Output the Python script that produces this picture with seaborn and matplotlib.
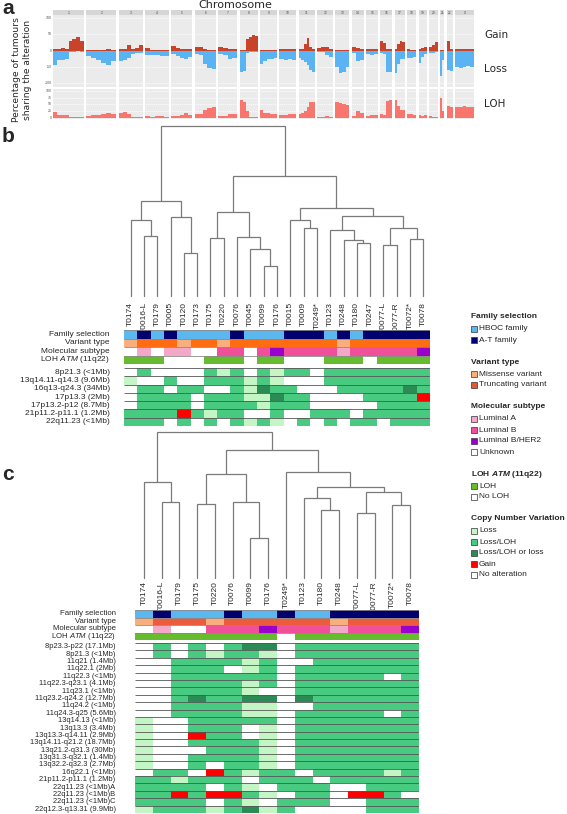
import matplotlib
matplotlib.use("Agg")
import matplotlib.pyplot as plt
from matplotlib.colors import ListedColormap
from matplotlib.patches import Rectangle
import numpy as np
import pandas as pd
import seaborn as sns

# ---------------------------------------------------------------- panel a data
chroms = [str(i) for i in range(1, 23)] + ["X"]
chrom_width = [31, 30, 24, 24, 21, 21, 19, 18, 17, 17, 16, 16, 14, 12, 12, 12, 10, 9, 8, 9, 4, 6, 19]
gain_pct = [
    [6, 5, 8, 5, 28, 35, 41, 30], [2, 3, 2, 3, 4, 2], [4, 5, 18, 6, 8, 16], [8, 3, 2, 3, 2],
    [13, 8, 5, 5, 6], [12, 10, 4, 3, 3], [10, 9, 6, 5], [2, 3, 35, 42, 48, 45],
    [2, 3, 3, 2, 3], [5, 4, 6, 5], [4, 6, 20, 38, 10, 5], [8, 10, 12, 6],
    [2, 3, 2, 2], [12, 8, 6], [5, 6, 5], [28, 22, 5, 4], [5, 20, 28, 25], [4, 3, 3],
    [5, 8, 10], [10, 18, 25], [2, 3], [30, 5], [5, 4, 6, 5, 4],
]
loss_pct = [
    [44, 30, 28, 25, 4, 4, 3, 4], [17, 22, 30, 38, 44, 32], [32, 30, 22, 10, 8, 9], [15, 14, 15, 16, 18],
    [12, 18, 24, 27, 20], [12, 14, 40, 55, 58], [12, 15, 25, 24], [66, 62, 8, 4, 4, 4],
    [40, 32, 25, 25, 24], [26, 28, 27, 30], [22, 28, 36, 45, 60, 67], [4, 6, 14, 20],
    [50, 68, 65, 52], [8, 32, 30], [12, 13, 12], [8, 10, 65, 67], [70, 40, 27, 25], [22, 24, 20],
    [37, 20, 12], [7, 8, 6], [78, 30], [60, 63], [50, 55, 52, 48, 50],
]
loh_pct = [
    [22, 12, 10, 12, 3, 5, 4, 5], [7, 9, 12, 15, 17, 16], [20, 23, 15, 5, 5, 4], [6, 5, 6, 7, 5],
    [6, 7, 10, 17, 10], [13, 15, 30, 35, 39], [7, 8, 15, 14], [66, 60, 25, 3, 3, 3],
    [28, 18, 17, 16, 15], [10, 12, 13, 15], [15, 17, 25, 40, 60, 58], [5, 4, 6, 5],
    [60, 55, 50, 48], [8, 24, 20], [8, 11, 9], [15, 12, 62, 65], [66, 45, 30, 28], [15, 14, 12],
    [10, 8, 9], [6, 5, 5], [75, 25], [45, 42], [42, 40, 44, 40, 42],
]
gl_ticks = [100, 50, 0, -50, -100]
loh_ticks = [100, 75, 50, 25, 0]

# ------------------------------------------------------------- sample annotations
samples = ["T0174", "T0016-L", "T0179", "T0005", "T0120", "T0173", "T0175", "T0220", "T0076",
           "T0045", "T0099", "T0176", "T0015", "T0009", "T0249*", "T0123", "T0248", "T0180",
           "T0247", "T0077-L", "T0077-R", "T0072*", "T0078"]
family = list("HAHAHHHHAHHHAAAHAHAAAAA")          # H = HBOC, A = A-T
variant = list("MTTTMTTMTTTTTTTTMTTTTTT")         # M = missense, T = truncating
subtype = list("UAUAAUUBBUBHBBBBABBBBBH")         # A, B, H = LumB/HER2, U = unknown
loh_atm = [1, 1, 1, 0, 0, 0, 1, 1, 1, 0, 1, 1, 0, 0, 0, 1, 1, 1, 0, 1, 1, 1, 1]
annot_rows = ["Family selection", "Variant type", "Molecular subtype", "LOH $\\it{ATM}$ (11q22)"]

# CNV codes: 0 none, 1 loss, 2 loss/LOH, 3 loss/LOH or loss, 4 gain
cnv_b_regions = ["8p21.3 (<1Mb)", "13q14.11-q14.3 (9.6Mb)", "16q13-q24.3 (34Mb)", "17p13.3 (2Mb)",
                 "17p13.2-p12 (8.7Mb)", "21p11.2-p11.1 (1.2Mb)", "22q11.23 (<1Mb)"]
cnv_b = [
    [0, 2, 0, 0, 0, 0, 2, 1, 2, 0, 2, 1, 2, 2, 0, 2, 2, 2, 2, 2, 2, 2, 2],
    [1, 0, 0, 2, 0, 0, 2, 2, 2, 1, 2, 1, 0, 0, 0, 2, 2, 2, 2, 2, 2, 2, 2],
    [0, 2, 2, 0, 2, 2, 0, 0, 2, 1, 3, 2, 2, 0, 0, 0, 2, 2, 2, 2, 2, 3, 2],
    [0, 2, 2, 2, 2, 0, 2, 2, 2, 1, 1, 3, 2, 2, 0, 0, 0, 0, 2, 2, 2, 2, 4],
    [0, 2, 2, 2, 2, 0, 2, 2, 2, 2, 1, 2, 2, 2, 0, 0, 0, 0, 0, 2, 2, 2, 2],
    [2, 2, 2, 2, 4, 2, 1, 2, 2, 0, 0, 2, 0, 0, 2, 2, 2, 0, 2, 2, 2, 2, 2],
    [2, 2, 2, 0, 2, 0, 2, 0, 2, 1, 2, 1, 0, 2, 0, 2, 0, 2, 2, 0, 2, 2, 2],
]
# linkage rows: (left node, right node, height); leaves are 0..n-1
link_b = [(1, 2, 60), (0, 23, 76), (4, 5, 43), (3, 25, 79), (24, 26, 95), (6, 7, 58),
          (10, 11, 30), (9, 29, 47), (8, 30, 59), (28, 31, 84), (13, 14, 68), (12, 33, 76),
          (17, 18, 53), (16, 35, 56), (15, 36, 66), (19, 20, 51), (21, 22, 57), (38, 39, 68),
          (37, 40, 80), (34, 41, 88), (32, 42, 120), (27, 43, 170)]

samples_c = ["T0174", "T0016-L", "T0179", "T0175", "T0220", "T0076", "T0099", "T0176", "T0249*",
             "T0123", "T0180", "T0248", "T0077-L", "T0077-R", "T0072*", "T0078"]
cnv_c_regions = ["8p23.3-p22 (17.1Mb)", "8p21.3 (<1Mb)", "11q21 (1.4Mb)", "11q22.1 (2Mb)",
                 "11q22.3 (<1Mb)", "11q22.3-q23.1 (4.1Mb)", "11q23.1 (<1Mb)", "11q23.2-q24.2 (12.7Mb)",
                 "11q24.2 (<1Mb)", "11q24.3-q25 (5.6Mb)", "13q14.13 (<1Mb)", "13q13.3 (3.4Mb)",
                 "13q13.3-q14.11 (2.9Mb)", "13q14.11-q21.2 (18.7Mb)", "13q21.2-q31.3 (30Mb)",
                 "13q31.3-q32.1 (1.4Mb)", "13q32.2-q32.3 (2.7Mb)", "16q22.1 (<1Mb)",
                 "21p11.2-p11.1 (1.2Mb)", "22q11.23 (<1Mb)A", "22q11.23 (<1Mb)B",
                 "22q11.23 (<1Mb)C", "22q12.3-q13.31 (9.9Mb)"]
cnv_c = [
    [0, 2, 0, 2, 0, 2, 3, 3, 0, 2, 2, 2, 2, 2, 2, 2],
    [0, 2, 0, 2, 1, 2, 2, 1, 0, 2, 2, 2, 2, 2, 2, 2],
    [0, 0, 2, 2, 2, 2, 1, 2, 0, 0, 2, 2, 2, 2, 2, 2],
    [0, 0, 2, 2, 2, 0, 1, 2, 0, 2, 2, 2, 2, 2, 2, 2],
    [0, 0, 2, 2, 2, 2, 2, 2, 0, 2, 2, 2, 2, 2, 0, 2],
    [0, 0, 2, 2, 2, 2, 1, 2, 0, 2, 2, 2, 2, 2, 2, 2],
    [0, 0, 2, 2, 2, 2, 1, 0, 0, 2, 2, 2, 2, 2, 2, 2],
    [0, 0, 2, 3, 2, 2, 3, 3, 0, 3, 2, 2, 2, 2, 2, 2],
    [0, 0, 2, 2, 2, 2, 1, 1, 0, 0, 2, 2, 2, 2, 2, 2],
    [0, 0, 2, 2, 2, 2, 1, 1, 0, 2, 2, 2, 2, 2, 0, 2],
    [1, 0, 0, 2, 2, 2, 2, 2, 0, 2, 2, 2, 2, 2, 2, 2],
    [1, 0, 0, 2, 2, 2, 0, 1, 0, 2, 2, 2, 2, 2, 2, 2],
    [1, 0, 0, 4, 2, 2, 0, 1, 0, 2, 2, 2, 2, 2, 2, 2],
    [1, 0, 0, 2, 2, 2, 2, 1, 0, 2, 2, 2, 2, 2, 2, 2],
    [1, 0, 0, 0, 2, 2, 2, 1, 0, 2, 2, 2, 2, 2, 2, 2],
    [1, 0, 0, 2, 2, 2, 2, 1, 0, 2, 2, 2, 2, 2, 2, 2],
    [1, 0, 0, 2, 0, 2, 2, 1, 0, 2, 2, 2, 2, 2, 2, 2],
    [0, 2, 2, 0, 4, 2, 1, 2, 2, 0, 2, 2, 2, 2, 1, 2],
    [2, 2, 1, 2, 2, 2, 0, 2, 2, 2, 0, 2, 2, 2, 2, 2],
    [2, 2, 2, 2, 0, 2, 1, 0, 2, 2, 2, 0, 0, 2, 2, 2],
    [2, 2, 4, 2, 4, 4, 2, 1, 0, 2, 2, 0, 4, 4, 2, 0],
    [2, 2, 2, 2, 0, 2, 1, 0, 2, 2, 2, 0, 0, 2, 2, 2],
    [1, 2, 2, 2, 1, 2, 3, 1, 2, 0, 0, 0, 0, 2, 2, 2],
]
link_c = [(1, 2, 76), (0, 16, 96), (3, 4, 74), (6, 7, 40), (5, 19, 76), (18, 20, 104),
          (10, 11, 68), (9, 22, 80), (12, 13, 65), (14, 15, 73), (24, 25, 86), (23, 26, 91),
          (8, 27, 106), (21, 28, 128), (17, 29, 146)]

legend_groups = [
    ("Family selection", ["HBOC family", "A-T family"]),
    ("Variant type", ["Missense variant", "Truncating variant"]),
    ("Molecular subtype", ["Luminal A", "Luminal B", "Luminal B/HER2", "Unknown"]),
    ("LOH $\\bf{ATM}$ (11q22)", ["LOH", "No LOH"]),
    ("Copy Number Variation", ["Loss", "Loss/LOH", "Loss/LOH or loss", "Gain", "No alteration"]),
]

# ---------------------------------------------------------------- styling
GAIN_C, LOSS_C, LOH_C = "#C8432A", "#5AB4F4", "#F8766D"
HBOC, AT = "#5BB8EE", "#00006E"
MISS, TRUNC_B, TRUNC_C = "#F9AE7E", "#FF6C12", "#EC5C3C"
LUMA, LUMB, HER2, LOHG = "#F3A8C8", "#F0509A", "#9A00CC", "#66BB2E"
CNV_COLORS = ["white", "#C4F5C4", "#48CB80", "#2C8A55", "#FF0000"]
LEG_COLORS = [[HBOC, AT], [MISS, "#E0593A"], [LUMA, LUMB, HER2, "white"], [LOHG, "white"],
              CNV_COLORS[1:] + ["white"]]
DENDRO_C = "#7A7A7A"

sns.set_theme(style="white")
plt.rcParams["font.family"] = ["Liberation Sans", "DejaVu Sans"]
plt.rcParams["mathtext.fontset"] = "custom"
plt.rcParams["mathtext.rm"] = "Liberation Sans"
plt.rcParams["mathtext.it"] = "Liberation Sans:italic"
plt.rcParams["mathtext.bf"] = "Liberation Sans:bold:italic"

W, H = 567, 814
fig = plt.figure(figsize=(W / 100, H / 100), dpi=100)


def px_axes(x0, y0, x1, y1):
    return fig.add_axes([x0 / W, 1 - y1 / H, (x1 - x0) / W, (y1 - y0) / H])


# ---------------------------------------------------------------- panel a
GAP = 2.36
widths = np.array(chrom_width, dtype=float)
starts = np.concatenate([[0], np.cumsum(widths[:-1] + GAP)])
total = starts[-1] + widths[-1]

ax_strip = px_axes(53, 10, 474, 15)
ax_gl = px_axes(53, 15, 474, 87)
ax_loh = px_axes(53, 89, 474, 119)
ax_gl.set_ylim(-112, 109)
ax_loh.set_ylim(-4, 107)
for ax in (ax_strip, ax_gl, ax_loh):
    ax.set_xlim(0, total)
    ax.axis("off")

for i, ch in enumerate(chroms):
    x0, x1 = starts[i], starts[i] + widths[i]
    ax_strip.axvspan(x0, x1, color="#D6D6D6", lw=0)
    ax_strip.text((x0 + x1) / 2, 0.5, ch, fontsize=2.3, color="#444", ha="center", va="center",
                  transform=ax_strip.get_xaxis_transform())
    ax_gl.axvspan(x0, x1, color="#EBEBEB", lw=0, zorder=0)
    ax_loh.axvspan(x0, x1, color="#EBEBEB", lw=0, zorder=0)
    for y in (-100, -50, 50, 100):
        ax_gl.plot([x0, x1], [y, y], color="white", lw=0.5, ls=(0, (2, 1)), zorder=1)
    for y in (25, 50, 75, 100):
        ax_loh.plot([x0, x1], [y, y], color="white", lw=0.5, ls=(0, (2, 1)), zorder=1)
    edges = np.linspace(x0, x1, len(gain_pct[i]) + 1)
    ax_gl.stairs(gain_pct[i], edges, baseline=0, fill=True, color=GAIN_C, zorder=2)
    ax_gl.stairs(-np.array(loss_pct[i]), edges, baseline=0, fill=True, color=LOSS_C, zorder=2)
    ax_loh.stairs(loh_pct[i], edges, baseline=0, fill=True, color=LOH_C, zorder=2)

for t in gl_ticks:
    ax_gl.text(-1.5, t, str(t), fontsize=2.5, color="#555", ha="right", va="center")
for t in loh_ticks:
    ax_loh.text(-1.5, t, str(t), fontsize=2.5, color="#555", ha="right", va="center")


# ---------------------------------------------------------------- dendrograms
def draw_dendrogram(ax, links, labels, pad):
    n = len(labels)
    pos = {i: i + 0.5 for i in range(n)}
    hgt = {i: 0.0 for i in range(n)}
    for k, (a, b, h) in enumerate(links):
        ax.plot([pos[a], pos[a], pos[b], pos[b]], [hgt[a], h, h, hgt[b]],
                color=DENDRO_C, lw=0.9, clip_on=False, solid_joinstyle="miter")
        pos[n + k] = (pos[a] + pos[b]) / 2
        hgt[n + k] = h
    ax.set_xlim(0, n)
    ax.set_ylim(0, max(h for _, _, h in links))
    ax.set_xticks(np.arange(n) + 0.5, labels, rotation=90, fontsize=6)
    ax.set_yticks([])
    ax.tick_params(axis="x", length=0, pad=pad)
    for s in ax.spines.values():
        s.set_visible(False)
    ax.patch.set_alpha(0)


def draw_heat(ax, matrix, rows, colors, line_c, pad, fs):
    df = pd.DataFrame(matrix, index=rows)
    sns.heatmap(df, ax=ax, cmap=ListedColormap(colors), vmin=-0.5, vmax=len(colors) - 0.5,
                cbar=False, xticklabels=False, yticklabels=True)
    ax.hlines(np.arange(len(rows) + 1), 0, df.shape[1], color=line_c, lw=0.6)
    ax.tick_params(left=False, bottom=False, labelsize=fs, pad=pad)
    ax.set_ylabel("")
    ax.set_xlabel("")
    for t in ax.get_yticklabels():
        t.set_rotation(0)


fam_code = {"H": 1, "A": 2}
var_code = {"M": 3, "T": 4}
sub_code = {"U": 0, "A": 5, "B": 6, "H": 7}
annot_all = pd.DataFrame(
    [[fam_code[v] for v in family], [var_code[v] for v in variant],
     [sub_code[v] for v in subtype], [8 * v for v in loh_atm]],
    index=annot_rows, columns=samples)


def annot_colors(trunc):
    return ["white", HBOC, AT, MISS, trunc, LUMA, LUMB, HER2, LOHG]


# panel b
base_b = 296
top_b = base_b - max(h for _, _, h in link_b)
ax_db = px_axes(124, top_b, 430, base_b)
draw_dendrogram(ax_db, link_b, samples, pad=4.3)
ax_ab = px_axes(124, 330, 430, 364)
draw_heat(ax_ab, annot_all[samples].values, annot_rows, annot_colors(TRUNC_B), "#8A8A8A", 4.3, 6)
ax_cb = px_axes(124, 368, 430, 426)
draw_heat(ax_cb, cnv_b, cnv_b_regions, CNV_COLORS, "#555555", 4.3, 6)

# panel c
base_c = 578
top_c = base_c - max(h for _, _, h in link_c)
ax_dc = px_axes(135, top_c, 419, base_c)
draw_dendrogram(ax_dc, link_c, samples_c, pad=2.2)
ax_ac = px_axes(135, 610, 419, 640)
draw_heat(ax_ac, annot_all[samples_c].values, annot_rows, annot_colors(TRUNC_C), "#8A8A8A", 8, 5.6)
ax_cc = px_axes(135, 643, 419, 813)
draw_heat(ax_cc, cnv_c, cnv_c_regions, CNV_COLORS, "#555555", 8, 5.4)

# ---------------------------------------------------------------- overlay text + legend
ov = fig.add_axes([0, 0, 1, 1])
ov.set_xlim(0, W)
ov.set_ylim(H, 0)
ov.axis("off")
ov.patch.set_alpha(0)

for letter, y in (("a", 8), ("b", 137), ("c", 474)):
    ov.text(2, y, letter, fontsize=15, fontweight="bold", ha="left", va="center")
ov.text(235, 5, "Chromosome", fontsize=8, ha="center", va="center", family="DejaVu Sans")
ov.text(22, 70, "Percentage of tumours\nsharing the alteration", rotation=90, fontsize=6.6,
        ha="center", va="center", linespacing=1.3, family="DejaVu Sans")
for lab, y in (("Gain", 35), ("Loss", 69), ("LOH", 104)):
    ov.text(484, y, lab, fontsize=7.5, ha="left", va="center", family="DejaVu Sans")

ly = 317
for (title, items), cols in zip(legend_groups, LEG_COLORS):
    ov.text(471, ly, title, fontsize=6, fontweight="bold", ha="left", va="center")
    ly += 12
    for item, col in zip(items, cols):
        ov.add_patch(Rectangle((471, ly - 3), 6, 6, facecolor=col, edgecolor="#333", lw=0.5))
        ov.text(479, ly, item, fontsize=6, ha="left", va="center")
        ly += 11
    ly += 11

fig.savefig("out.png", dpi=100)
